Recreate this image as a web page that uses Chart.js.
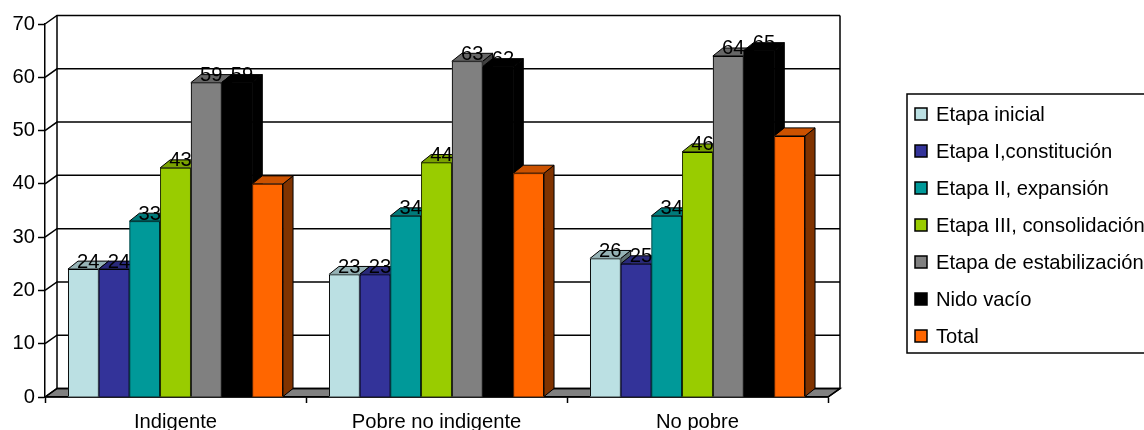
<!DOCTYPE html>
<html>
<head>
<meta charset="utf-8">
<style>
  html, body { margin: 0; padding: 0; background: #fff; overflow: hidden; }
  canvas { display: block; }
</style>
<script src="https://cdn.jsdelivr.net/npm/chart.js@4"></script>
</head>
<body>
<canvas id="barChart" width="1144" height="430"></canvas>
<script>
  // Categories and series values
  const categories = ["Indigente", "Pobre no indigente", "No pobre"];
  const seriesNames = ["Etapa inicial", "Etapa I,constitución", "Etapa II, expansión", "Etapa III, consolidación", "Etapa de estabilización", "Nido vacío", "Total"];
  const etapaInicial = [24, 23, 26];
  const etapaConstitucion = [24, 23, 25];
  const etapaExpansion = [33, 34, 34];
  const etapaConsolidacion = [43, 44, 46];
  const etapaEstabilizacion = [59, 63, 64];
  const nidoVacio = [59, 62, 65];
  const total = [40, 42, 49];
  const seriesValues = [etapaInicial, etapaConstitucion, etapaExpansion, etapaConsolidacion, etapaEstabilizacion, nidoVacio, total];

  const seriesColors = ["#BBE0E3", "#333399", "#009999", "#99CC00", "#808080", "#000000", "#FF6600"];
  const fontFamily = "'Liberation Sans', Arial, sans-serif";
  const fontSize = 20.2;
  const lineWidth = 1.5;

  // Offsets of the fake depth: back wall and bar tops
  const wallDx = 12, wallDy = -8.5;
  const barDx = 10, barDy = -8;

  function shade(hex, k) {
    const n = parseInt(hex.slice(1), 16);
    const r = Math.round((n >> 16) * k);
    const g = Math.round(((n >> 8) & 255) * k);
    const b = Math.round((n & 255) * k);
    return `rgb(${r}, ${g}, ${b})`;
  }

  function polygon(ctx, points, fill) {
    ctx.beginPath();
    points.forEach((p, i) => (i ? ctx.lineTo(p[0], p[1]) : ctx.moveTo(p[0], p[1])));
    ctx.closePath();
    if (fill) {
      ctx.fillStyle = fill;
      ctx.fill();
    }
    ctx.stroke();
  }

  // Floor, back wall and gridlines behind the bars
  const wallPlugin = {
    id: "wall",
    beforeDraw(chart) {
      const { ctx, chartArea: a, scales } = chart;
      ctx.save();
      ctx.strokeStyle = "#000";
      ctx.lineWidth = lineWidth;
      polygon(ctx, [[a.left, a.bottom], [a.left + wallDx, a.bottom + wallDy], [a.right + wallDx, a.bottom + wallDy], [a.right, a.bottom]], "#808080");
      scales.y.ticks.forEach((tick) => {
        const y = scales.y.getPixelForValue(tick.value);
        ctx.beginPath();
        ctx.moveTo(a.left, y);
        ctx.lineTo(a.left + wallDx, y + wallDy);
        ctx.lineTo(a.right + wallDx, y + wallDy);
        ctx.stroke();
      });
      ctx.beginPath();
      ctx.moveTo(a.left + wallDx, a.top + wallDy);
      ctx.lineTo(a.left + wallDx, a.bottom + wallDy);
      ctx.moveTo(a.right + wallDx, a.top + wallDy);
      ctx.lineTo(a.right + wallDx, a.bottom + wallDy);
      ctx.lineTo(a.right, a.bottom);
      ctx.stroke();
      ctx.restore();
    },
  };

  // Top and side faces, painted left to right before the front faces
  const depthPlugin = {
    id: "depth",
    beforeDatasetsDraw(chart) {
      const { ctx } = chart;
      ctx.save();
      ctx.strokeStyle = "#000";
      ctx.lineWidth = 1;
      categories.forEach((_, c) => {
        seriesValues.forEach((_, s) => {
          const bar = chart.getDatasetMeta(s).data[c];
          const left = bar.x - bar.width / 2;
          const right = bar.x + bar.width / 2;
          const color = seriesColors[s];
          polygon(ctx, [[right, bar.y], [right + barDx, bar.y + barDy], [right + barDx, bar.base + barDy], [right, bar.base]], shade(color, 0.5));
          polygon(ctx, [[left, bar.y], [left + barDx, bar.y + barDy], [right + barDx, bar.y + barDy], [right, bar.y]], shade(color, 0.8));
        });
      });
      // Solid backing so the border and fill of a bar leave no light seam
      categories.forEach((_, c) => {
        seriesValues.forEach((_, s) => {
          const bar = chart.getDatasetMeta(s).data[c];
          ctx.fillStyle = seriesColors[s];
          ctx.fillRect(bar.x - bar.width / 2, bar.y, bar.width, bar.base - bar.y);
        });
      });
      ctx.restore();
    },
    // Value labels sit on the top face; the Total series has none
    afterDatasetsDraw(chart) {
      const { ctx } = chart;
      ctx.save();
      ctx.fillStyle = "#000";
      ctx.font = `${fontSize}px ${fontFamily}`;
      ctx.textAlign = "center";
      ctx.textBaseline = "alphabetic";
      seriesValues.forEach((values, s) => {
        if (seriesNames[s] === "Total") return;
        chart.getDatasetMeta(s).data.forEach((bar, c) => {
          ctx.fillText(String(values[c]), bar.x + 5, bar.y - 1.5);
        });
      });
      ctx.restore();
    },
  };

  // Boxed legend to the right of the plot, running off the canvas edge
  const legendBoxPlugin = {
    id: "legendBox",
    afterDraw(chart) {
      const { ctx } = chart;
      ctx.save();
      ctx.strokeStyle = "#000";
      ctx.lineWidth = lineWidth;
      ctx.strokeRect(907, 94, 300, 259);
      ctx.font = `${fontSize}px ${fontFamily}`;
      ctx.textAlign = "left";
      ctx.textBaseline = "middle";
      seriesNames.forEach((name, i) => {
        const y = 114 + i * 37;
        ctx.fillStyle = seriesColors[i];
        ctx.fillRect(915, y - 6, 12, 12);
        ctx.strokeRect(915, y - 6, 12, 12);
        ctx.fillStyle = "#000";
        ctx.fillText(name, 936, y + 1);
      });
      ctx.restore();
    },
  };

  new Chart(document.getElementById("barChart").getContext("2d"), {
    type: "bar",
    data: {
      labels: categories,
      datasets: seriesNames.map((name, i) => ({
        label: name,
        data: seriesValues[i],
        backgroundColor: seriesColors[i],
        borderColor: "#000",
        borderWidth: 1,
        barPercentage: 1,
        categoryPercentage: 0.824,
      })),
    },
    options: {
      responsive: false,
      animation: false,
      layout: { padding: { top: 24, right: 316, left: 0, bottom: 0 } },
      plugins: {
        legend: { display: false },
        title: { display: false },
        tooltip: { enabled: false },
      },
      scales: {
        x: {
          afterFit(scale) { scale.height = 33; },
          grid: { drawOnChartArea: false, drawTicks: true, tickLength: 6, tickColor: "#000", tickWidth: lineWidth },
          border: { display: true, color: "#000", width: lineWidth },
          ticks: { color: "#000", font: { family: fontFamily, size: fontSize }, padding: 7, maxRotation: 0 },
        },
        y: {
          min: 0,
          max: 70,
          afterFit(scale) { scale.width = 45; },
          grid: { drawOnChartArea: false, drawTicks: true, tickLength: 7, tickColor: "#000", tickWidth: lineWidth },
          border: { display: true, color: "#000", width: lineWidth },
          ticks: { stepSize: 10, color: "#000", font: { family: fontFamily, size: fontSize }, padding: 3 },
        },
      },
    },
    plugins: [wallPlugin, depthPlugin, legendBoxPlugin],
  });
</script>
</body>
</html>
